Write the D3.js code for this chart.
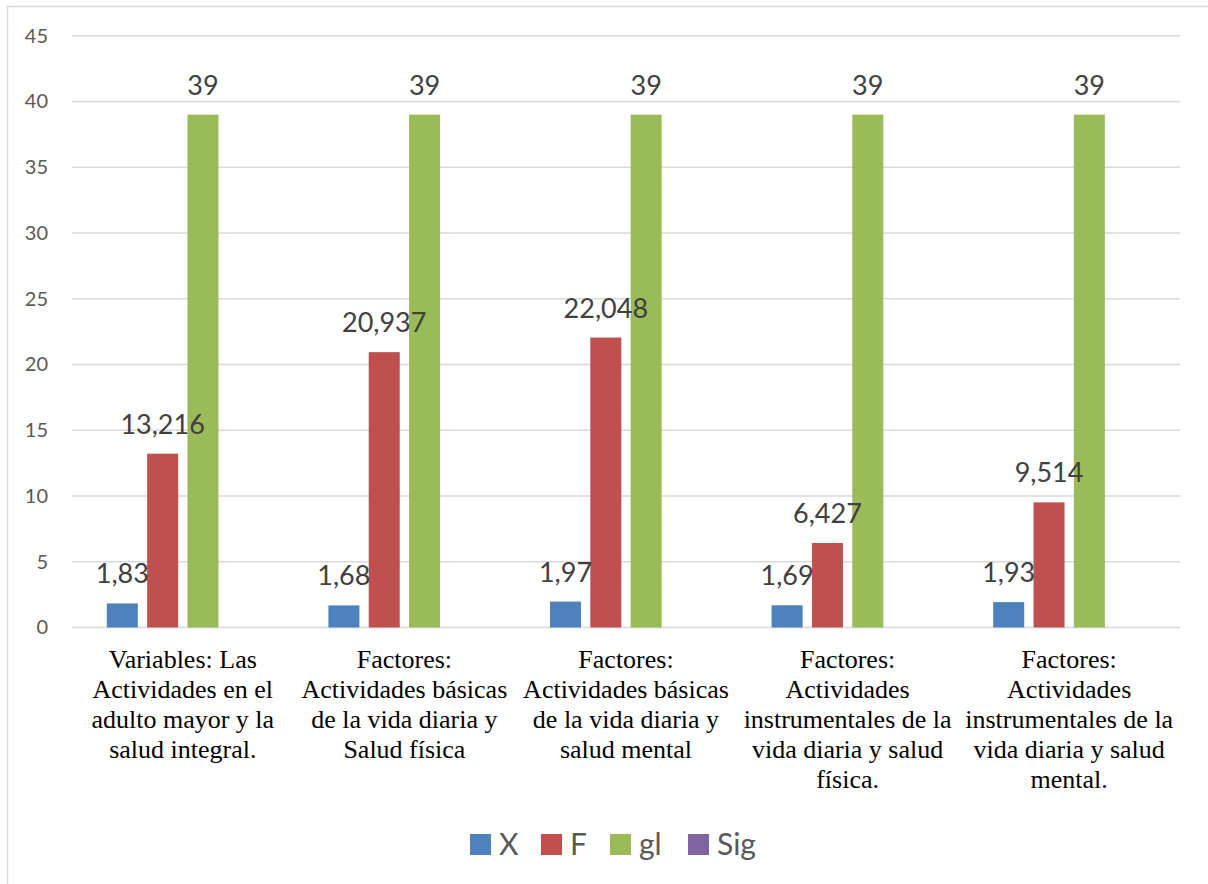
<!DOCTYPE html>
<html>
<head>
<meta charset="utf-8">
<script src="https://cdn.jsdelivr.net/npm/d3@7"></script>
<style>
  html, body { margin: 0; padding: 0; background: #fff; }
  svg { display: block; }
  .cat { font-family: "Liberation Serif", "Times New Roman", Times, serif; }
</style>
</head>
<body>
<svg id="chart" width="1208" height="884"></svg>
<script>
// Category labels (explicit line breaks) and series values
const categories = [
  "Variables: Las\nActividades en el\nadulto mayor y la\nsalud integral.",
  "Factores:\nActividades básicas\nde la vida diaria y\nSalud física",
  "Factores:\nActividades básicas\nde la vida diaria y\nsalud mental",
  "Factores:\nActividades\ninstrumentales de la\nvida diaria y salud\nfísica.",
  "Factores:\nActividades\ninstrumentales de la\nvida diaria y salud\nmental."
];
const seriesNames = ["X", "F", "gl", "Sig"];
const valuesX = [1.83, 1.68, 1.97, 1.69, 1.93];
const valuesF = [13.216, 20.937, 22.048, 6.427, 9.514];
const valuesGl = [39, 39, 39, 39, 39];
const valuesSig = [0, 0, 0, 0, 0];
const yTicks = [0, 5, 10, 15, 20, 25, 30, 35, 40, 45];

const seriesValues = [valuesX, valuesF, valuesGl, valuesSig];
const colors = ["#4F81BD", "#C0504D", "#9BBB59", "#8064A2"];
const decimals = [2, 3, 0, null]; // null: no data label

const locale = d3.formatLocale({ decimal: ",", thousands: ".", grouping: [3], currency: ["", ""] });

const svg = d3.select("#chart");

// outer chart frame
svg.append("rect")
  .attr("x", 7.5).attr("y", 6.5)
  .attr("width", 1230).attr("height", 900)
  .attr("fill", "none").attr("stroke", "#d9d9d9").attr("stroke-width", 1.5);

const plot = { left: 72, right: 1180, top: 35.7, bottom: 627.5 };

const x0 = d3.scaleBand()
  .domain(d3.range(categories.length))
  .range([plot.left, plot.right])
  .paddingInner(0).paddingOuter(0);

const bw = x0.bandwidth();
const x1 = d3.scaleBand()
  .domain(seriesNames)
  .range([bw * 0.157, bw * 0.843])
  .paddingInner(0.231).paddingOuter(0);

const y = d3.scaleLinear().domain([0, 45]).range([plot.bottom, plot.top]);

// gridlines
svg.append("g")
  .selectAll("line")
  .data(yTicks)
  .join("line")
  .attr("x1", plot.left).attr("x2", plot.right)
  .attr("y1", d => y(d)).attr("y2", d => y(d))
  .attr("stroke", "#d9d9d9").attr("stroke-width", 1.5);

// y axis labels
const yAxis = d3.axisLeft(y).tickValues(yTicks).tickSize(0).tickPadding(0);
const yg = svg.append("g")
  .attr("transform", `translate(48,0)`)
  .call(yAxis);
yg.select(".domain").remove();
yg.selectAll("text")
  .attr("font-family", "Lato, 'Open Sans', sans-serif")
  .attr("font-size", 20)
  .attr("fill", "#595959");

// bars
const rows = categories.map((c, i) => ({
  i,
  vals: seriesNames.map((s, k) => ({ key: s, k, v: seriesValues[k][i] }))
}));

const groups = svg.append("g")
  .selectAll("g")
  .data(rows)
  .join("g")
  .attr("transform", d => `translate(${x0(d.i)},0)`);

groups.selectAll("rect")
  .data(d => d.vals)
  .join("rect")
  .attr("x", d => x1(d.key))
  .attr("width", x1.bandwidth())
  .attr("y", d => y(d.v))
  .attr("height", d => y(0) - y(d.v))
  .attr("fill", d => colors[d.k]);

// data labels
groups.selectAll("text.val")
  .data(d => d.vals.filter(v => decimals[v.k] !== null))
  .join("text")
  .attr("class", "val")
  .attr("x", d => x1(d.key) + x1.bandwidth() / 2)
  .attr("y", d => y(d.v) - 20)
  .attr("text-anchor", "middle")
  .attr("font-family", "Lato, 'Open Sans', sans-serif")
  .attr("font-size", 27)
  .attr("fill", "#404040")
  .text(d => locale.format("." + decimals[d.k] + "f")(d.v));

// category labels
const catG = svg.append("g")
  .selectAll("text")
  .data(categories)
  .join("text")
  .attr("class", "cat")
  .attr("x", (d, i) => x0(i) + bw / 2)
  .attr("y", 668)
  .attr("text-anchor", "middle")
  .attr("font-size", 26)
  .attr("fill", "#000");
catG.selectAll("tspan")
  .data(d => d.split("\n"))
  .join("tspan")
  .attr("x", function () { return d3.select(this.parentNode).attr("x"); })
  .attr("dy", (d, j) => j === 0 ? 0 : 30)
  .text(d => d);

// legend
const legendX = [470, 541, 610, 688];
const legend = svg.append("g")
  .selectAll("g")
  .data(seriesNames)
  .join("g")
  .attr("transform", (d, k) => `translate(${legendX[k]},834)`);
legend.append("rect")
  .attr("width", 21).attr("height", 21)
  .attr("fill", (d, k) => colors[k]);
legend.append("text")
  .attr("x", 29).attr("y", 21)
  .attr("font-family", "Lato, 'Open Sans', sans-serif")
  .attr("font-size", 30)
  .attr("fill", "#595959")
  .text(d => d);
</script>
</body>
</html>
